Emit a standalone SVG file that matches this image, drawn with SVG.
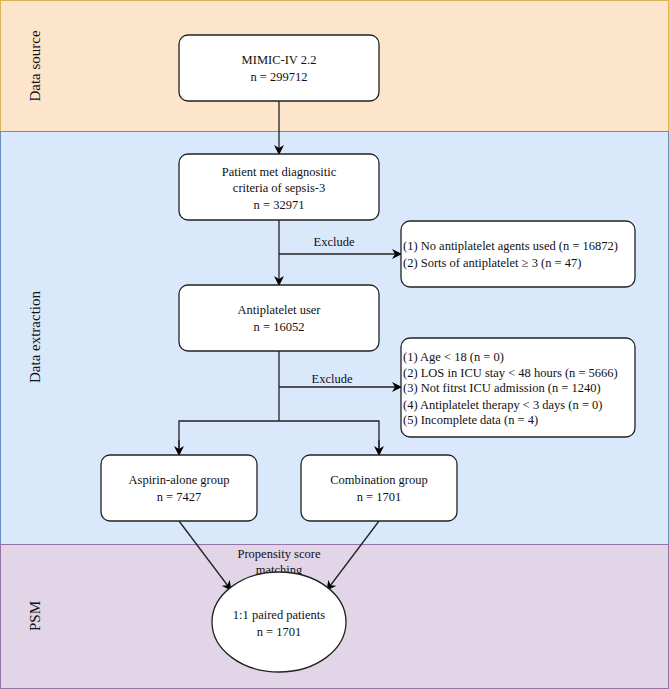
<svg xmlns="http://www.w3.org/2000/svg" width="669" height="689" viewBox="0 0 669 689" font-family="'Liberation Serif','Times New Roman','DejaVu Serif',serif">
<defs><marker id="a" markerWidth="10" markerHeight="10" refX="9" refY="5" orient="auto" markerUnits="userSpaceOnUse"><path d="M0,0 L10,5 L0,10 L3,5 Z" fill="#000"/></marker></defs>
<style>
text{font-family:'Liberation Serif','Times New Roman','DejaVu Serif',serif;font-size:12.5px;fill:#111}
.c{text-anchor:middle}
.b{fill:#fff;stroke:#222;stroke-width:1.3}
.l{fill:none;stroke:#222;stroke-width:1.3}
.lane{font-size:15px}
</style>
<g id="lanes">
<rect x="0.5" y="0.5" width="668" height="131" fill="#fde5cc" stroke="#d6b656"/>
<rect x="0.5" y="131.5" width="668" height="413" fill="#dae8fc" stroke="#6c8ebf"/>
<rect x="0.5" y="544.5" width="668" height="144" fill="#e1d5e7" stroke="#9673a6"/>
<text class="lane c" transform="translate(40,66) rotate(-90)">Data source</text>
<text class="lane c" transform="translate(40,337) rotate(-90)">Data extraction</text>
<text class="lane c" transform="translate(40,616) rotate(-90)">PSM</text>
</g>
<g id="connectors">
<path class="l" d="M279,101 V154" marker-end="url(#a)"/>
<path class="l" d="M279,220 V285" marker-end="url(#a)"/>
<path class="l" d="M279,254 H401" marker-end="url(#a)"/>
<path class="l" d="M279,351 V421"/>
<path class="l" d="M279,387 H401" marker-end="url(#a)"/>
<path class="l" d="M179,455 V421 H379 V455" />
<path class="l" d="M179,440 V455" marker-end="url(#a)"/>
<path class="l" d="M379,440 V455" marker-end="url(#a)"/>
<path class="l" d="M179,521 L231,590" marker-end="url(#a)"/>
<path class="l" d="M379,521 L327,590" marker-end="url(#a)"/>
<text class="c" x="334" y="246">Exclude</text>
<text class="c" x="332" y="383">Exclude</text>
<text class="c" x="279" y="558">Propensity score</text>
<text class="c" x="279" y="574">matching</text>
</g>
<g id="n1"><rect class="b" x="179" y="35" width="200" height="66" rx="9"/><text class="c" x="279" y="64">MIMIC-IV 2.2</text><text class="c" x="279" y="81">n = 299712</text></g>
<g id="n2"><rect class="b" x="179" y="154" width="200" height="66" rx="9"/><text class="c" x="279" y="176">Patient met diagnositic</text><text class="c" x="279" y="192">criteria of sepsis-3</text><text class="c" x="279" y="209">n = 32971</text></g>
<g id="e1"><rect class="b" x="401" y="221" width="234" height="66" rx="9"/><text x="403" y="250">(1) No antiplatelet agents used (n = 16872)</text><text x="403" y="267">(2) Sorts of antiplatelet ≥ 3 (n = 47)</text></g>
<g id="n3"><rect class="b" x="179" y="285" width="200" height="66" rx="9"/><text class="c" x="279" y="314">Antiplatelet user</text><text class="c" x="279" y="331">n = 16052</text></g>
<g id="e2"><rect class="b" x="401" y="338" width="234" height="99" rx="9"/><text x="403" y="361">(1) Age &lt; 18 (n = 0)</text><text x="403" y="377">(2) LOS in ICU stay &lt; 48 hours (n = 5666)</text><text x="403" y="392">(3) Not fitrst ICU admission (n = 1240)</text><text x="403" y="409">(4) Antiplatelet therapy &lt; 3 days (n = 0)</text><text x="403" y="424">(5) Incomplete data (n = 4)</text></g>
<g id="n4"><rect class="b" x="101" y="455" width="156" height="66" rx="9"/><text class="c" x="179" y="484">Aspirin-alone group</text><text class="c" x="179" y="501">n = 7427</text></g>
<g id="n5"><rect class="b" x="301" y="455" width="156" height="66" rx="9"/><text class="c" x="379" y="484">Combination group</text><text class="c" x="379" y="501">n = 1701</text></g>
<g id="n6"><ellipse class="b" cx="279" cy="622" rx="67" ry="50"/><text class="c" x="279" y="619">1:1 paired patients</text><text class="c" x="279" y="636">n = 1701</text></g>
</svg>
